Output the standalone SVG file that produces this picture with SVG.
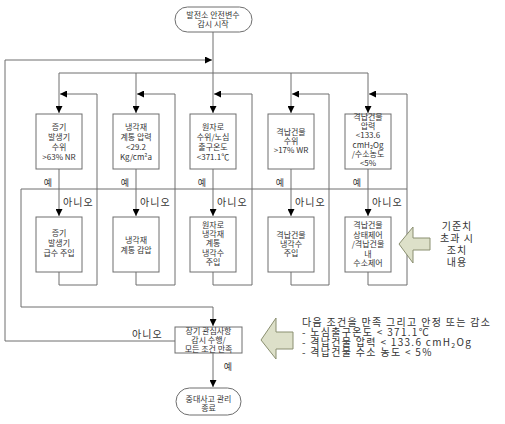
<svg xmlns="http://www.w3.org/2000/svg" width="505" height="424" viewBox="0 0 505 424">
<style>
text{font-family:"Noto Sans CJK KR","Liberation Sans",sans-serif;fill:#333;}
.b{font-size:8px;text-anchor:middle;}
.n{font-size:10px;letter-spacing:1px;}
.nt{font-size:10px;letter-spacing:1.3px;}
.y{font-size:9px;text-anchor:middle;}
.box{fill:#fff;stroke:#6e6e6e;stroke-width:1;}
.ln{fill:none;stroke:#6e6e6e;stroke-width:1;}
.blk{fill:#dde0c9;stroke:#8a8f70;stroke-width:1;}
</style>
<defs>
<marker id="ar" viewBox="0 0 10 10" refX="10" refY="5" markerWidth="7" markerHeight="7" markerUnits="userSpaceOnUse" orient="auto"><path d="M0,0L10,5L0,10z" fill="#000"/></marker>
</defs>
<rect width="505" height="424" fill="#fff"/>
<g id="connectors">
<path class="ln" d="M5,341V60H212" marker-end="url(#ar)"/>
<path class="ln" d="M213,32V113" marker-end="url(#ar)"/>
<path class="ln" d="M59,73H368"/>
<path class="ln" d="M59,73V113" marker-end="url(#ar)"/>
<path class="ln" d="M136,73V113" marker-end="url(#ar)"/>
<path class="ln" d="M291,73V113" marker-end="url(#ar)"/>
<path class="ln" d="M368,73V113" marker-end="url(#ar)"/>
<path class="ln" d="M59,272V285H97V94H60" marker-end="url(#ar)"/>
<path class="ln" d="M136,272V285H175V94H137" marker-end="url(#ar)"/>
<path class="ln" d="M213,272V285H252V94H214" marker-end="url(#ar)"/>
<path class="ln" d="M291,272V285H329V94H292" marker-end="url(#ar)"/>
<path class="ln" d="M368,272V285H407V94H369" marker-end="url(#ar)"/>
<path class="ln" d="M59,169V216" marker-end="url(#ar)"/>
<path class="ln" d="M136,169V216" marker-end="url(#ar)"/>
<path class="ln" d="M213,169V216" marker-end="url(#ar)"/>
<path class="ln" d="M291,169V216" marker-end="url(#ar)"/>
<path class="ln" d="M368,169V216" marker-end="url(#ar)"/>
<path class="ln" d="M407,189H21V307H213V326" marker-end="url(#ar)"/>
<path class="ln" d="M175,341H5"/>
<path class="ln" d="M213,353V387" marker-end="url(#ar)"/>
<text class="y" x="48" y="186">예</text>
<text class="y" x="125" y="186">예</text>
<text class="y" x="202" y="186">예</text>
<text class="y" x="280" y="186">예</text>
<text class="y" x="357" y="186">예</text>
<text class="n" x="63" y="206">아니오</text>
<text class="n" x="140" y="206">아니오</text>
<text class="n" x="217" y="206">아니오</text>
<text class="n" x="295" y="206">아니오</text>
<text class="n" x="372" y="206">아니오</text>
<text class="n" x="132" y="338">아니오</text>
<text class="y" x="228" y="370">예</text>
</g>
<g id="start">
<rect class="box" x="175" y="7" width="77" height="25" rx="12.5"/>
<text class="b" x="213" y="17.5">발전소 안전변수<tspan x="213" dy="9">감시 시작</tspan></text>
</g>
<g id="d1">
<rect class="box" x="36" y="114" width="46" height="55"/>
<text class="b" x="59" y="130">증기<tspan x="59" dy="10">발생기</tspan><tspan x="59" dy="10">수위</tspan><tspan x="59" dy="10">&gt;63% NR</tspan></text>
</g>
<g id="d2">
<rect class="box" x="113" y="114" width="46" height="55"/>
<text class="b" x="136" y="130">냉각재<tspan x="136" dy="10">계통 압력</tspan><tspan x="136" dy="10">&lt;29.2</tspan><tspan x="136" dy="10">Kg/cm²a</tspan></text>
</g>
<g id="d3">
<rect class="box" x="190" y="114" width="46" height="55"/>
<text class="b" x="213" y="130">원자로<tspan x="213" dy="10">수위/노심</tspan><tspan x="213" dy="10">출구온도</tspan><tspan x="213" dy="10">&lt;371.1℃</tspan></text>
</g>
<g id="d4">
<rect class="box" x="268" y="114" width="46" height="55"/>
<text class="b" x="291" y="135">격납건물<tspan x="291" dy="9">수위</tspan><tspan x="291" dy="9">&gt;17% WR</tspan></text>
</g>
<g id="d5">
<rect class="box" x="345" y="114" width="46" height="55"/>
<text class="b" x="368" y="120">격납건물<tspan x="368" dy="9.2">압력</tspan><tspan x="368" dy="9.2">&lt;133.6</tspan><tspan x="368" dy="9.2">cmH</tspan><tspan font-size="5.5" dy="1.5">2</tspan><tspan dy="-1.5">Og</tspan><tspan x="368" dy="9.2">/수소농도</tspan><tspan x="368" dy="9.2">&lt;5%</tspan></text>
</g>
<g id="a1">
<rect class="box" x="36" y="217" width="46" height="55"/>
<text class="b" x="59" y="236">증기<tspan x="59" dy="10">발생기</tspan><tspan x="59" dy="10">급수 주입</tspan></text>
</g>
<g id="a2">
<rect class="box" x="113" y="217" width="46" height="55"/>
<text class="b" x="136" y="243">냉각재<tspan x="136" dy="10">계통 감압</tspan></text>
</g>
<g id="a3">
<rect class="box" x="190" y="217" width="46" height="55"/>
<text class="b" x="213" y="228">원자로<tspan x="213" dy="9.2">냉각재</tspan><tspan x="213" dy="9.2">계통</tspan><tspan x="213" dy="9.2">냉각수</tspan><tspan x="213" dy="9.2">주입</tspan></text>
</g>
<g id="a4">
<rect class="box" x="268" y="217" width="46" height="55"/>
<text class="b" x="291" y="238">격납건물<tspan x="291" dy="9">냉각수</tspan><tspan x="291" dy="9">주입</tspan></text>
</g>
<g id="a5">
<rect class="box" x="345" y="217" width="46" height="55"/>
<text class="b" x="368" y="228">격납건물<tspan x="368" dy="9.5">상태제어</tspan><tspan x="368" dy="9.5">/격납건물</tspan><tspan x="368" dy="9.5">내</tspan><tspan x="368" dy="9.5">수소제어</tspan></text>
</g>
<g id="final">
<rect class="box" x="175" y="327" width="67" height="26"/>
<text class="b" x="208.5" y="334">장기 관심사항<tspan x="208.5" dy="9">감시 수행/</tspan><tspan x="208.5" dy="9">모든 조건 만족</tspan></text>
</g>
<g id="end">
<rect class="box" x="176" y="388" width="65" height="27" rx="13.5"/>
<text class="b" x="208.5" y="402">중대사고 관리<tspan x="208.5" dy="9">종료</tspan></text>
</g>
<g id="note1">
<polygon class="blk" points="399,244 413,227 413,238 430,238 430,250 413,250 413,263"/>
<text font-size="10" letter-spacing="1" text-anchor="middle" x="457" y="230">기준치<tspan x="457" dy="12">초과 시</tspan><tspan x="457" dy="12">조치</tspan><tspan x="457" dy="12">내용</tspan></text>
</g>
<g id="note2">
<polygon class="blk" points="261,340 276,318 276,332 293,332 293,349 276,349 276,359"/>
<text class="nt" x="302" y="326">다음 조건을 만족 그리고 안정 또는 감소<tspan x="302" dy="10">- 노심출구온도 &lt; 371.1℃</tspan><tspan x="302" dy="10">- 격납건물 압력 &lt; 133.6 cmH</tspan><tspan font-size="7" dy="2">2</tspan><tspan dy="-2">Og</tspan><tspan x="302" dy="10">- 격납건물 수소 농도 &lt; 5%</tspan></text>
</g>
</svg>
